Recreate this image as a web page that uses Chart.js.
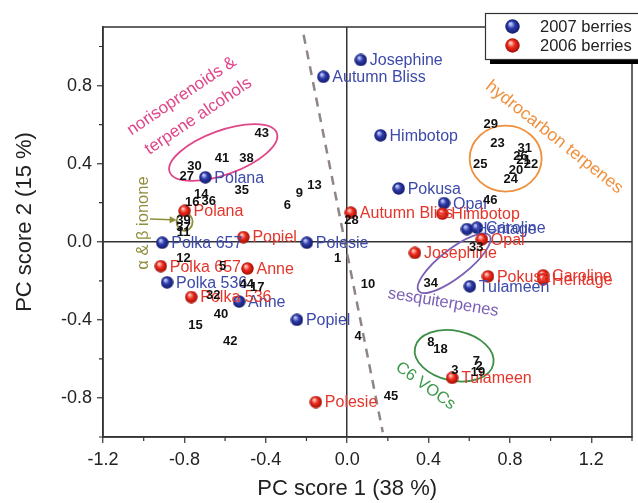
<!DOCTYPE html>
<html>
<head>
<meta charset="utf-8">
<script src="https://cdn.jsdelivr.net/npm/chart.js@4.4.1/dist/chart.umd.min.js"></script>
<style>
  html, body { margin: 0; padding: 0; background: #fff; }
  #wrap { width: 638px; height: 503px; position: relative; }
</style>
</head>
<body>
<div id="wrap"><canvas id="pca"></canvas></div>
<script>
// 2007 berries (blue)
const names2007 = ["Josephine", "Autumn Bliss", "Himbotop", "Polana", "Pokusa", "Opal", "Heritage", "Caroline",
  "Polka 657", "Polesie", "Polka 536", "Anne", "Popiel", "Tulameen"];
const pc1_2007 = [0.067, -0.117, 0.164, -0.697, 0.253, 0.476, 0.589, 0.638, -0.909, -0.198, -0.885, -0.531, -0.247, 0.603];
const pc2_2007 = [0.931, 0.845, 0.545, 0.330, 0.273, 0.198, 0.065, 0.072, -0.005, -0.005, -0.208, -0.306, -0.400, -0.228];

// 2006 berries (red)
const names2006 = ["Autumn Bliss", "Himbotop", "Polana", "Popiel", "Opal", "Josephine", "Polka 657", "Anne",
  "Polka 536", "Pokusa", "Caroline", "Heritage", "Tulameen", "Polesie"];
const pc1_2006 = [0.018, 0.468, -0.799, -0.510, 0.662, 0.333, -0.916, -0.490, -0.766, 0.692, 0.963, 0.963, 0.516, -0.154];
const pc2_2006 = [0.149, 0.144, 0.158, 0.024, 0.012, -0.057, -0.125, -0.137, -0.283, -0.177, -0.172, -0.192, -0.697, -0.821];

// volatile compound loadings, numbered 1..46
const compoundIds = ["1", "2", "3", "4", "5", "6", "7", "8", "9", "10", "11", "12", "13", "14", "15", "16", "17", "18", "19", "20",
  "21", "22", "23", "24", "25", "26", "27", "28", "29", "30", "31", "32", "33", "34", "35", "36", "37", "38", "39", "40",
  "41", "42", "43", "44", "45", "46"];
const compoundPc1 = [-0.047, 0.649, 0.529, 0.054, -0.612, -0.294, 0.635, 0.411, -0.235, 0.102, -0.804, -0.804, -0.161, -0.717, -0.745, -0.761, -0.442, 0.459, 0.643, 0.830,
  0.867, 0.903, 0.739, 0.804, 0.654, 0.852, -0.788, 0.021, 0.706, -0.750, 0.873, -0.658, 0.635, 0.411, -0.518, -0.680, -0.804, -0.495, -0.804, -0.620,
  -0.615, -0.575, -0.420, -0.493, 0.216, 0.703];
const compoundPc2 = [-0.082, -0.632, -0.653, -0.482, -0.122, 0.193, -0.606, -0.508, 0.253, -0.211, 0.055, -0.082, 0.296, 0.247, -0.423, 0.206, -0.228, -0.546, -0.666, 0.373,
  0.421, 0.402, 0.507, 0.322, 0.399, 0.442, 0.342, 0.115, 0.605, 0.390, 0.481, -0.271, -0.026, -0.208, 0.266, 0.213, 0.081, 0.430, 0.112, -0.369,
  0.430, -0.507, 0.560, -0.214, -0.787, 0.215];

// dashed separation line ends
const splitPc1 = [-0.214, 0.175];
const splitPc2 = [1.06, -0.976];

const axisTitleX = "PC score 1 (38 %)";
const axisTitleY = "PC score 2 (15 %)";

const pts = (xs, ys) => xs.map((x, i) => ({ x: x, y: ys[i] }));

// shaded 3d ball used as marker
function ball(base, dark, light, d) {
  const c = document.createElement("canvas");
  c.width = d;
  c.height = d;
  const g = c.getContext("2d");
  const r = d / 2;
  const grad = g.createRadialGradient(r * 0.72, r * 0.62, r * 0.08, r, r, r);
  grad.addColorStop(0, light);
  grad.addColorStop(0.45, base);
  grad.addColorStop(1, dark);
  g.fillStyle = grad;
  g.beginPath();
  g.arc(r, r, r - 0.3, 0, Math.PI * 2);
  g.fill();
  return c;
}

const blueBall = ball("#2c3aa8", "#101866", "#c8ceff", 13);
const redBall = ball("#ee2a1c", "#9a0c06", "#ffd0c4", 13);
const blueBallBig = ball("#2c3aa8", "#101866", "#c8ceff", 15);
const redBallBig = ball("#ee2a1c", "#9a0c06", "#ffd0c4", 15);

// text next to points
const pointLabels = {
  id: "pointLabels",
  afterDatasetsDraw(chart) {
    const ctx = chart.ctx;
    chart.data.datasets.forEach((ds, i) => {
      if (!ds.labels) return;
      const meta = chart.getDatasetMeta(i);
      ctx.save();
      ctx.font = ds.labelFont;
      ctx.fillStyle = ds.labelColor;
      ctx.textBaseline = "middle";
      ctx.textAlign = ds.labelAlign;
      meta.data.forEach((pt, j) => {
        ctx.fillText(ds.labels[j], pt.x + ds.labelDx, pt.y + 1);
      });
      ctx.restore();
    });
  },
};

// group outlines and their captions
const groups = {
  id: "groups",
  beforeDatasetsDraw(chart) {
    const ctx = chart.ctx;
    const sx = chart.scales.x;
    const sy = chart.scales.y;
    const px = (v) => sx.getPixelForValue(v);
    const py = (v) => sy.getPixelForValue(v);

    const ell = (cx, cy, rx, ry, deg, color) => {
      ctx.save();
      ctx.strokeStyle = color;
      ctx.lineWidth = 1.8;
      ctx.beginPath();
      ctx.ellipse(px(cx), py(cy), rx, ry, (deg * Math.PI) / 180, 0, Math.PI * 2);
      ctx.stroke();
      ctx.restore();
    };
    const txt = (s, cx, cy, deg, size, color) => {
      ctx.save();
      ctx.translate(px(cx), py(cy));
      ctx.rotate((deg * Math.PI) / 180);
      ctx.font = size + "px 'Liberation Sans', Arial, sans-serif";
      ctx.fillStyle = color;
      ctx.textAlign = "center";
      ctx.textBaseline = "middle";
      ctx.fillText(s, 0, 0);
      ctx.restore();
    };

    ell(-0.609, 0.457, 57, 22, -20, "#e0468a");
    ell(0.779, 0.426, 36, 33, 0, "#f0903c");
    ell(0.526, -0.110, 45, 14, -38, "#7b5fb5");
    ell(0.526, -0.584, 40, 25, 12, "#3c8f46");
    ell(-0.799, 0.102, 8, 9, 0, "#8e8d3c");

    txt("norisoprenoids &", -0.813, 0.746, -34, 17, "#e0468a");
    txt("terpene alcohols", -0.731, 0.643, -34, 17, "#e0468a");
    txt("hydrocarbon terpenes", 1.018, 0.535, 38.5, 17.5, "#f0903c");
    txt("sesquiterpenes", 0.472, -0.311, 9.3, 16.5, "#7b5fb5");
    txt("C6 VOCs", 0.385, -0.739, 36, 16.5, "#3c9a4a");
    txt("\u03b1 & \u03b2 ionone", -1.003, 0.096, -90, 16.5, "#8e8d3c");

    // arrow to the ionone pair
    const x0 = px(-0.969), y0 = py(0.117), x1 = px(-0.838), y1 = py(0.112);
    const a = Math.atan2(y1 - y0, x1 - x0);
    ctx.save();
    ctx.strokeStyle = "#8e8d3c";
    ctx.fillStyle = "#8e8d3c";
    ctx.lineWidth = 1.5;
    ctx.beginPath();
    ctx.moveTo(x0, y0);
    ctx.lineTo(x1 - 5 * Math.cos(a), y1 - 5 * Math.sin(a));
    ctx.stroke();
    ctx.beginPath();
    ctx.moveTo(x1, y1);
    ctx.lineTo(x1 - 7 * Math.cos(a) + 3.5 * Math.sin(a), y1 - 7 * Math.sin(a) - 3.5 * Math.cos(a));
    ctx.lineTo(x1 - 7 * Math.cos(a) - 3.5 * Math.sin(a), y1 - 7 * Math.sin(a) + 3.5 * Math.cos(a));
    ctx.closePath();
    ctx.fill();
    ctx.restore();
  },
};

// frame top/right, short minor ticks, axis titles and boxed legend
const frame = {
  id: "frame",
  afterDraw(chart) {
    const ctx = chart.ctx;
    const a = chart.chartArea;
    ctx.save();
    ctx.strokeStyle = "#333";
    ctx.lineWidth = 1.5;
    ctx.strokeRect(a.left, a.top, a.right - a.left, a.bottom - a.top);

    // minor ticks (the scales draw only the long labelled ones)
    ctx.lineWidth = 1.2;
    ctx.beginPath();
    chart.scales.x.ticks.forEach((t) => {
      if (isMajor(t.value)) return;
      const x = chart.scales.x.getPixelForValue(t.value);
      ctx.moveTo(x, a.bottom);
      ctx.lineTo(x, a.bottom + 4);
    });
    chart.scales.y.ticks.forEach((t) => {
      if (isMajor(t.value)) return;
      const y = chart.scales.y.getPixelForValue(t.value);
      ctx.moveTo(a.left, y);
      ctx.lineTo(a.left - 4, y);
    });
    ctx.stroke();

    ctx.fillStyle = "#222";
    ctx.font = "22px 'Liberation Sans', Arial, sans-serif";
    ctx.textAlign = "center";
    ctx.textBaseline = "middle";
    ctx.fillText(axisTitleX, chart.scales.x.getPixelForValue(0), 489);
    ctx.translate(25, 222);
    ctx.rotate(-Math.PI / 2);
    ctx.fillText(axisTitleY, 0, 0);
    ctx.restore();

    // legend
    ctx.save();
    ctx.fillStyle = "#000";
    ctx.fillRect(490, 18, 160, 46);
    ctx.fillStyle = "#fff";
    ctx.fillRect(485, 13, 160, 46);
    ctx.strokeStyle = "#333";
    ctx.lineWidth = 1.2;
    ctx.strokeRect(485.5, 13.5, 160, 46);
    ctx.drawImage(blueBallBig, 505, 19);
    ctx.drawImage(redBallBig, 505, 38);
    ctx.fillStyle = "#222";
    ctx.font = "16.5px 'Liberation Sans', Arial, sans-serif";
    ctx.textBaseline = "middle";
    ctx.fillText("2007 berries", 540, 27);
    ctx.fillText("2006 berries", 540, 46);
    ctx.restore();
  },
};

function isMajor(v) {
  return Math.abs(Math.round(v / 0.2)) % 2 === 0;
}
const tickText = (v) => (isMajor(v) ? (Math.abs(v) < 1e-9 ? 0 : v).toFixed(1) : "");
const zeroLine = (ctx) => (ctx.tick && Math.abs(ctx.tick.value) < 1e-9 ? "#333" : "rgba(0,0,0,0)");
const majorTick = (ctx) => (ctx.tick && isMajor(ctx.tick.value) ? "#333" : "rgba(0,0,0,0)");

const labelFont = "16px 'Liberation Sans', Arial, sans-serif";

new Chart(document.getElementById("pca"), {
  type: "scatter",
  data: {
    datasets: [
      {
        label: "2007 berries",
        data: pts(pc1_2007, pc2_2007),
        pointStyle: blueBall,
        labels: names2007,
        labelColor: "#3d4aaa",
        labelFont: labelFont,
        labelAlign: "left",
        labelDx: 9,
        order: 2,
      },
      {
        label: "2006 berries",
        data: pts(pc1_2006, pc2_2006),
        pointStyle: redBall,
        labels: names2006,
        labelColor: "#e3352a",
        labelFont: labelFont,
        labelAlign: "left",
        labelDx: 9,
        order: 1,
      },
      {
        label: "compounds",
        data: pts(compoundPc1, compoundPc2),
        pointRadius: 0,
        labels: compoundIds,
        labelColor: "#111",
        labelFont: "bold 13px 'Liberation Sans', Arial, sans-serif",
        labelAlign: "center",
        labelDx: 0,
        order: 3,
      },
      {
        label: "split",
        data: pts(splitPc1, splitPc2),
        showLine: true,
        pointRadius: 0,
        borderColor: "#8f8585",
        borderWidth: 2.5,
        borderDash: [9, 7],
        order: 10,
      },
    ],
  },
  options: {
    responsive: true,
    maintainAspectRatio: false,
    animation: false,
    layout: { padding: { top: 27, right: 3, left: 0, bottom: 0 } },
    plugins: {
      legend: { display: false },
      tooltip: { enabled: false },
    },
    scales: {
      x: {
        type: "linear",
        min: -1.2,
        max: 1.4,
        afterFit: (s) => { s.height = 66; },
        ticks: {
          stepSize: 0.2,
          includeBounds: false,
          autoSkip: false,
          maxRotation: 0,
          padding: 6,
          color: "#222",
          font: { size: 18, family: "'Liberation Sans', Arial, sans-serif" },
          callback: tickText,
        },
        grid: {
          color: zeroLine,
          lineWidth: 1.5,
          tickLength: 6,
          tickColor: majorTick,
          tickWidth: 1.2,
        },
        border: { display: true, color: "#333", width: 1.5 },
      },
      y: {
        type: "linear",
        min: -1.0,
        max: 1.1,
        afterFit: (s) => { s.width = 103; },
        ticks: {
          stepSize: 0.2,
          includeBounds: false,
          autoSkip: false,
          padding: 5,
          color: "#222",
          font: { size: 18, family: "'Liberation Sans', Arial, sans-serif" },
          callback: tickText,
        },
        grid: {
          color: zeroLine,
          lineWidth: 1.5,
          tickLength: 6,
          tickColor: majorTick,
          tickWidth: 1.2,
        },
        border: { display: true, color: "#333", width: 1.5 },
      },
    },
  },
  plugins: [groups, pointLabels, frame],
});
</script>
</body>
</html>
